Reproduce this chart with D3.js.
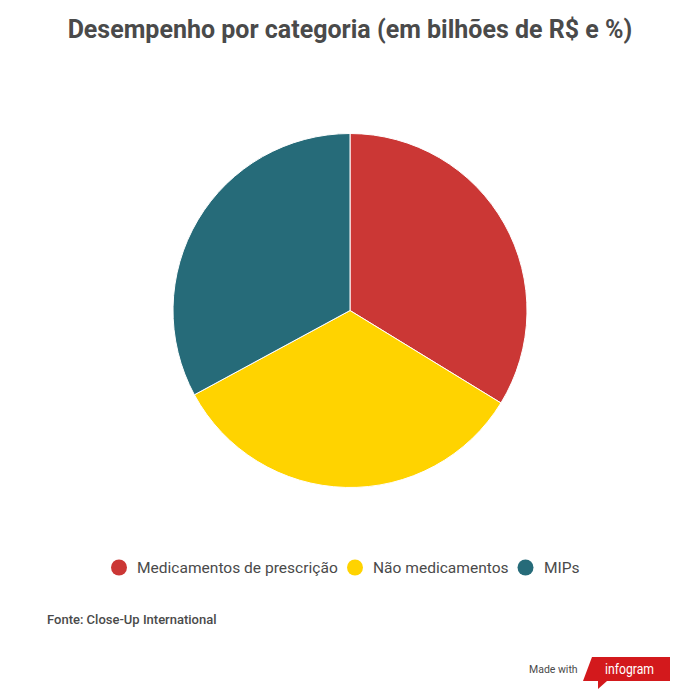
<!DOCTYPE html>
<html>
<head>
<meta charset="utf-8">
<script src="https://cdn.jsdelivr.net/npm/d3@7/dist/d3.min.js"></script>
<style>
  html, body { margin: 0; padding: 0; background: #fff; }
  text { font-family: Roboto, sans-serif; fill: #4a4a4a; }
</style>
</head>
<body>
<div id="chart"></div>
<script>
var categories = ["Medicamentos de prescrição", "Não medicamentos", "MIPs"];
var values = [33.75, 33.35, 32.9];
var colors = ["#cb3735", "#ffd300", "#266b79"];
var legendX = [119, 355, 525.5];

var svg = d3.select("#chart").append("svg")
  .attr("width", 700)
  .attr("height", 700);

svg.append("text")
  .attr("x", 350)
  .attr("y", 38)
  .attr("text-anchor", "middle")
  .style("font-size", "25px")
  .style("font-weight", 700)
  .text("Desempenho por categoria (em bilhões de R$ e %)");

var pie = d3.pie().sort(null)(values);
var arc = d3.arc().innerRadius(0).outerRadius(177);

svg.append("g")
  .attr("transform", "translate(350,310.5)")
  .selectAll("path")
  .data(pie)
  .enter()
  .append("path")
    .attr("d", arc)
    .attr("fill", function(d, i) { return colors[i]; })
    .attr("stroke", "#fff")
    .attr("stroke-width", 1);

var legend = svg.selectAll(".legend")
  .data(categories)
  .enter()
  .append("g")
    .attr("class", "legend")
    .attr("transform", function(d, i) { return "translate(" + legendX[i] + ",567.5)"; });

legend.append("circle")
  .attr("r", 8)
  .attr("fill", function(d, i) { return colors[i]; });

legend.append("text")
  .attr("x", function(d, i) { return 18 + (i == 2 ? 0.5 : 0); })
  .attr("y", 5.5)
  .style("font-size", "15.55px")
  .text(function(d) { return d; });

svg.append("text")
  .attr("x", 47)
  .attr("y", 624)
  .style("font-size", "13px")
  .style("font-weight", 500)
  .text("Fonte: Close-Up International");

svg.append("text")
  .attr("x", 529)
  .attr("y", 673)
  .style("font-size", "10.5px")
  .text("Made with");

// infogram badge
svg.append("path")
  .attr("d", "M592,657H670V681H607L598,689V681H583Z")
  .attr("fill", "#d3191c");

svg.append("text")
  .attr("x", 605)
  .attr("y", 674)
  .attr("textLength", 49)
  .attr("lengthAdjust", "spacingAndGlyphs")
  .style("font-size", "15px")
  .style("fill", "#fff")
  .text("infogram");
</script>
</body>
</html>
